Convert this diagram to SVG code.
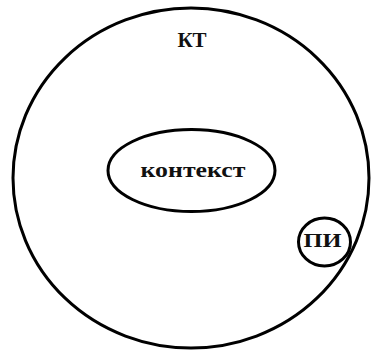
<svg xmlns="http://www.w3.org/2000/svg" width="371" height="353" viewBox="0 0 371 353">
<style>
.shape{fill:none;stroke:#000;stroke-width:3}
.lbl{font-family:"Liberation Serif","Times New Roman",serif;font-weight:bold;fill:#111;text-anchor:middle}
</style>
<rect width="371" height="353" fill="#fff"/>
<g id="kt">
<ellipse class="shape" cx="191" cy="178" rx="178" ry="170"/>
<text class="lbl" x="192" y="47" font-size="21">КТ</text>
</g>
<g id="kontekst">
<ellipse class="shape" cx="191.5" cy="170.5" rx="83.5" ry="41"/>
<text class="lbl" x="193" y="177" font-size="22" textLength="105" lengthAdjust="spacingAndGlyphs">контекст</text>
</g>
<g id="pi">
<ellipse class="shape" cx="324.5" cy="242" rx="26" ry="24"/>
<text class="lbl" x="322.5" y="247" font-size="18" textLength="38" lengthAdjust="spacingAndGlyphs">ПИ</text>
</g>
<g id="connectors"/>
</svg>
